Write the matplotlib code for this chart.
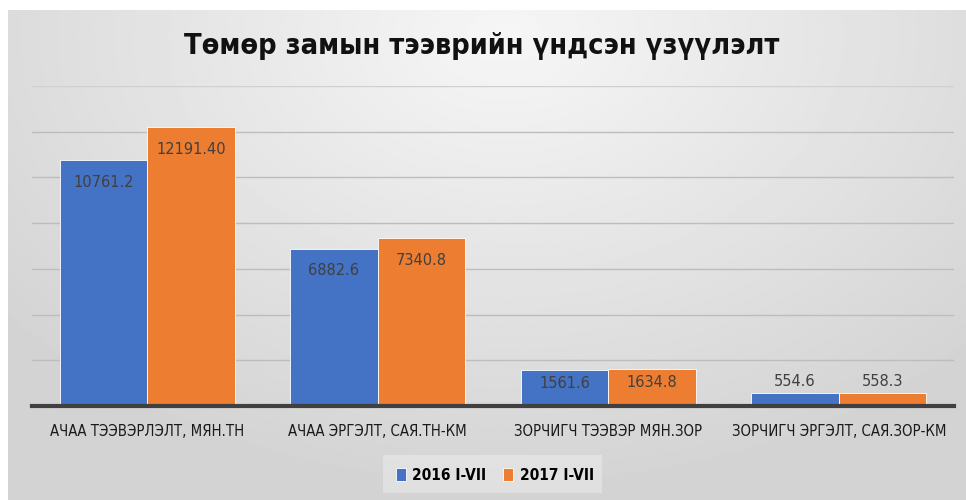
import numpy as np
import matplotlib.pyplot as plt
from matplotlib import font_manager as fm
from matplotlib.patches import Rectangle

TITLE = "Төмөр замын тээврийн үндсэн үзүүлэлт"
categories = [
    "АЧАА ТЭЭВЭРЛЭЛТ, МЯН.ТН",
    "АЧАА ЭРГЭЛТ, САЯ.ТН-КМ",
    "ЗОРЧИГЧ ТЭЭВЭР МЯН.ЗОР",
    "ЗОРЧИГЧ ЭРГЭЛТ, САЯ.ЗОР-КМ",
]
series_names = ["2016 I-VII", "2017 I-VII"]
values_2016 = [10761.2, 6882.6, 1561.6, 554.6]
values_2017 = [12191.40, 7340.8, 1634.8, 558.3]
labels_2016 = ["10761.2", "6882.6", "1561.6", "554.6"]
labels_2017 = ["12191.40", "7340.8", "1634.8", "558.3"]

BLUE = "#4472C4"
ORANGE = "#ED7D31"
LABEL = "#404040"


def _pick_font(bold):
    """Prefer a narrow face (the original uses Arial Narrow-ish text)."""
    files = [f.fname for f in fm.fontManager.ttflist]
    wanted = (["LiberationSansNarrow-Bold", "DejaVuSansCondensed-Bold"] if bold
              else ["LiberationSansNarrow-Regular", "DejaVuSansCondensed.ttf"])
    for key in wanted:
        for f in files:
            if key in f.replace(" ", ""):
                return fm.FontProperties(fname=f)
    return fm.FontProperties(family="Liberation Sans",
                             weight="bold" if bold else "normal")


FONT = _pick_font(False)
FONT_B = _pick_font(True)

W, H = 966, 500
fig = plt.figure(figsize=(W / 100, H / 100), dpi=100, facecolor="white")
renderer = fig.canvas.get_renderer()


def _fit(text, target_px):
    """Scale a text's font size so its width matches target_px."""
    text.set_fontsize(12)
    w = text.get_window_extent(renderer).width
    text.set_fontsize(12 * target_px / w)
    return text.get_fontsize()


# gray gradient panel behind the chart
bg = fig.add_axes([8 / W, 0, 1 - 8 / W, (H - 10) / H])
yy, xx = np.mgrid[0:1:200j, 0:1:400j]
r = np.sqrt(((xx - 0.52) / 0.8) ** 2 + ((yy - 0.05) / 1.1) ** 2)
shade = np.clip(0.965 - 0.16 * r, 0.83, 0.965)
bg.imshow(shade, cmap="gray", vmin=0, vmax=1, aspect="auto",
          extent=(0, 1, 1, 0))
bg.set_axis_off()

ax = fig.add_axes([32 / W, (H - 406) / H, 922 / W, 320 / H])
ax.patch.set_alpha(0)
x = np.arange(len(categories))
bw = 0.378
off = 0.19
b1 = ax.bar(x - off, values_2016, bw, color=BLUE, label=series_names[0],
            edgecolor="white", linewidth=0.6, zorder=3)
b2 = ax.bar(x + off, values_2017, bw, color=ORANGE, label=series_names[1],
            edgecolor="white", linewidth=0.6, zorder=3)

ax.set_xlim(-0.5, 3.5)
ax.set_ylim(0, 14000)
ax.set_yticks(np.arange(2000, 14001, 2000))
ax.yaxis.grid(True, color="#bdbdbd", linewidth=1.0, zorder=0)
ax.get_ygridlines()[-1].set_color("#d0d0d0")
ax.tick_params(axis="y", left=False, labelleft=False)
ax.set_xticks(x)
ax.set_xticklabels(categories, color="#1a1a1a", fontproperties=FONT)
for s in ["top", "right", "left"]:
    ax.spines[s].set_visible(False)
ax.spines["bottom"].set_color("#404040")
ax.spines["bottom"].set_linewidth(3)
ax.spines["bottom"].set_zorder(4)

probe = ax.text(0, 0, categories[0], fontproperties=FONT)
tick_size = _fit(probe, 194)
probe.remove()
ax.tick_params(axis="x", length=0, pad=18.5)
for t in ax.get_xticklabels():
    t.set_fontproperties(FONT)
    t.set_fontsize(tick_size)
    t.set_va("center")

# px per data unit, for label offsets
px_per_unit = 320 / 14000
probe = ax.text(0, 0, labels_2016[0], fontproperties=FONT)
lab_size = _fit(probe, 60)
probe.remove()

for bars, labs in ((b1, labels_2016), (b2, labels_2017)):
    for rect, lab in zip(bars, labs):
        h = rect.get_height()
        cx = rect.get_x() + rect.get_width() / 2
        hpx = h * px_per_unit
        dy = -min(22, hpx / 2 - 5) if hpx > 25 else 12
        ax.annotate(lab, (cx, h), xytext=(0, dy * 0.72),
                    textcoords="offset points", ha="center", va="center",
                    fontproperties=FONT, fontsize=lab_size, color=LABEL,
                    zorder=5)

title = fig.text(482 / W, 1 - 46 / H, TITLE, ha="center", va="center",
                 fontproperties=FONT_B, color="#111111")
_fit(title, 595)

# legend box
fig.patches.append(Rectangle((383 / W, 1 - 493 / H), 219 / W, 38 / H,
                             transform=fig.transFigure, facecolor="white",
                             alpha=0.3, edgecolor="none"))
probe = fig.text(0, 0, series_names[0], fontproperties=FONT_B)
leg_size = _fit(probe, 74)
probe.remove()
leg_prop = FONT_B.copy()
leg_prop.set_size(leg_size)
fig.legend(handles=[b1, b2], labels=series_names, loc="center",
           bbox_to_anchor=(495 / W, 1 - 475 / H), ncol=2, frameon=False,
           prop=leg_prop, handlelength=0.65, handleheight=0.9,
           handletextpad=0.4, columnspacing=1.1)

fig.savefig("out.png", dpi=100, facecolor="white")
